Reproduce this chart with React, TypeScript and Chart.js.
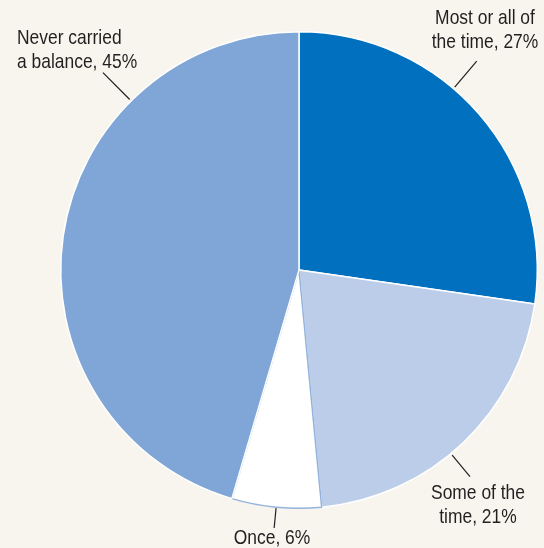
import React, { useEffect, useRef } from "react";
import { Chart, registerables } from "chart.js";

Chart.register(...registerables);

const categories = ["Most or all of the time", "Some of the time", "Once", "Never carried a balance"];
const values = [27, 21, 6, 45];
const labelLines = [
  ["Most or all of", "the time, 27%"],
  ["Some of the", "time, 21%"],
  ["Once, 6%"],
  ["Never carried", "a balance, 45%"],
];

const colors = ["#0070bf", "#bccde9", "#ffffff", "#7fa6d6"];
const borders = ["#ffffff", "#ffffff", "#93b3dd", "#ffffff"];

// leader lines: angle (deg clockwise from top), start/end distance from centre; text anchor relative to centre
const annot = [
  { ang: 40.4, r1: 2, r2: 36, tx: 186, ty: -252, align: "center" as CanvasTextAlign },
  { ang: 140.4, r1: 2, r2: 30, tx: 179, ty: 223, align: "center" as CanvasTextAlign },
  { ang: 185.5, r1: 1, r2: 21, tx: -27, ty: 268, align: "center" as CanvasTextAlign },
  { ang: 315.2, r1: 2, r2: 40, tx: -282, ty: -232, align: "left" as CanvasTextAlign },
];

const labelPlugin = {
  id: "pieLabels",
  afterDraw(chart: any) {
    const meta = chart.getDatasetMeta(0);
    const arc = meta.data[0];
    if (!arc) return;
    const cx = arc.x;
    const cy = arc.y;
    const R = arc.outerRadius;
    const ctx = chart.ctx;
    ctx.save();
    ctx.strokeStyle = "#231f20";
    ctx.lineWidth = 1.2;
    ctx.fillStyle = "#231f20";
    ctx.font = "21px 'Liberation Sans Narrow', 'Arial Narrow', 'Liberation Sans', Arial, sans-serif";
    ctx.textBaseline = "middle";
    annot.forEach((a, i) => {
      const t = (a.ang * Math.PI) / 180;
      const sx = cx + Math.sin(t) * (R + a.r1);
      const sy = cy - Math.cos(t) * (R + a.r1);
      const ex = cx + Math.sin(t) * (R + a.r2);
      const ey = cy - Math.cos(t) * (R + a.r2);
      ctx.beginPath();
      ctx.moveTo(sx, sy);
      ctx.lineTo(ex, ey);
      ctx.stroke();
      ctx.textAlign = a.align;
      labelLines[i].forEach((line, j) => {
        ctx.save();
        ctx.translate(cx + a.tx, cy + a.ty + j * 24.5);
        ctx.scale(0.83, 1);
        ctx.fillText(line, 0, 0);
        ctx.restore();
      });
    });
    ctx.restore();
  },
};

export default function App() {
  const ref = useRef<HTMLCanvasElement>(null);
  useEffect(() => {
    document.body.style.margin = "0";
    document.body.style.background = "#f8f5ee";
    const chart = new Chart(ref.current!, {
      type: "pie",
      data: {
        labels: categories,
        datasets: [
          {
            data: values,
            backgroundColor: colors,
            borderColor: borders,
            borderWidth: 1.5,
          },
        ],
      },
      options: {
        animation: false,
        responsive: false,
        layout: { padding: { left: 60, top: 31, right: 6, bottom: 39 } },
        plugins: { legend: { display: false }, tooltip: { enabled: false } },
      },
      plugins: [labelPlugin],
    });
    return () => chart.destroy();
  }, []);
  return (
    <div style={{ width: 544, height: 548, background: "#f8f5ee" }}>
      <canvas ref={ref} width={544} height={548} style={{ display: "block" }} />
    </div>
  );
}
